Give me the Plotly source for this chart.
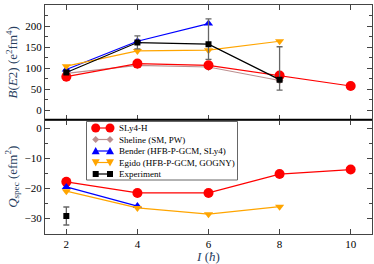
import plotly.graph_objects as go
from plotly.subplots import make_subplots

spins = [2, 4, 6, 8, 10]

# B(E2) values (e^2 fm^4)
be2_sly4 = [80, 111, 107, 83, 58]
be2_sheline_x = [2, 4, 6, 8]
be2_sheline = [88, 107, 103, 71]
be2_bender_x = [2, 4, 6]
be2_bender = [97, 164, 206]
be2_egido_x = [2, 4, 6, 8]
be2_egido = [105, 141, 143, 164]
be2_exp_x = [2, 4, 6, 8]
be2_exp = [90, 161, 157, 73]
be2_exp_err_plus = [4, 16, 60, 78]
be2_exp_err_minus = [4, 15, 36, 25]

# Q_spec values (e fm^2)
q_sly4 = [-17.8, -21.5, -21.5, -15.2, -13.7]
q_bender_x = [2, 4]
q_bender = [-19.5, -25.9]
q_egido_x = [2, 4, 6, 8]
q_egido = [-20.9, -26.5, -28.6, -26.1]
q_exp_x = [2]
q_exp = [-29.2]
q_exp_err = [3.0]

legend_names = ["SLy4-H", "Sheline (SM, PW)", "Bender (HFB-P-GCM, SLy4)",
                "Egido (HFB-P-GCM, GOGNY)", "Experiment"]

RED = "#ff0000"
ROSY = "#bc8f8f"
BLUE = "#0000ff"
ORANGE = "#ffa500"
BLACK = "#000000"
FONT = "Liberation Serif"

W, H = 374, 264
ML, MR, MT, MB = 45, 2, 5, 30
PW, PH = W - ML - MR, H - MT - MB

fig = make_subplots(rows=2, cols=1, shared_xaxes=True, vertical_spacing=0)

def add(x, y, name, color, symbol, size, row, err=None):
    kw = {}
    if err is not None:
        kw["error_y"] = err
    fig.add_trace(go.Scatter(x=x, y=y, name=name, mode="lines+markers",
                             line=dict(color=color, width=1.2),
                             marker=dict(color=color, symbol=symbol, size=size),
                             showlegend=False, **kw),
                  row=row, col=1)

err_style = dict(color="#666666", thickness=1.3, width=3)

add(be2_sheline_x, be2_sheline, legend_names[1], ROSY, "diamond", 6, 1)
add(spins, be2_sly4, legend_names[0], RED, "circle", 10, 1)
add(be2_bender_x, be2_bender, legend_names[2], BLUE, "triangle-up", 8, 1)
add(be2_egido_x, be2_egido, legend_names[3], ORANGE, "triangle-down", 8, 1)
add(be2_exp_x, be2_exp, legend_names[4], BLACK, "square", 6, 1,
    err=dict(type="data", symmetric=False, array=be2_exp_err_plus,
             arrayminus=be2_exp_err_minus, **err_style))

add(spins, q_sly4, legend_names[0], RED, "circle", 10, 2)
add(q_bender_x, q_bender, legend_names[2], BLUE, "triangle-up", 8, 2)
add(q_egido_x, q_egido, legend_names[3], ORANGE, "triangle-down", 8, 2)
add(q_exp_x, q_exp, legend_names[4], BLACK, "square", 6, 2,
    err=dict(type="data", array=q_exp_err, **err_style))

axis_common = dict(showgrid=False, zeroline=False, showline=True, mirror="ticks",
                   linecolor="#444444", linewidth=1, ticks="inside", ticklen=5,
                   tickcolor="#444444", automargin=False,
                   tickfont=dict(family=FONT, size=11, color="black"))

fig.update_xaxes(range=[1.4, 10.6], tickvals=[2, 4, 6, 8, 10], **axis_common)
fig.update_xaxes(title=dict(text="<i>I</i> (<i>ħ</i>)", font=dict(family=FONT, size=13),
                            standoff=0), row=2, col=1)
fig.update_yaxes(range=[-21.5, 250], dtick=50, row=1, col=1,
                 minor=dict(ticks="inside", dtick=25, ticklen=3, tickcolor="#444444"),
                 title=dict(text="<i>B</i>(<i>E</i>2) (e<sup>2</sup>fm<sup>4</sup>)",
                            font=dict(family=FONT, size=13), standoff=4),
                 **axis_common)
fig.update_yaxes(range=[-35.2, 3], dtick=10, row=2, col=1,
                 minor=dict(ticks="inside", dtick=5, ticklen=3, tickcolor="#444444"),
                 title=dict(text="<i>Q</i><sub>spec</sub> (efm<sup>2</sup>)",
                            font=dict(family=FONT, size=13), standoff=4),
                 **axis_common)

shapes = [dict(type="line", xref="paper", yref="paper", x0=0, x1=1, y0=0.5, y1=0.5,
               line=dict(color="black", width=1.5))]
annotations = []

# manual legend (pixel geometry converted to paper coordinates)
def px(x):
    return (x - ML) / PW

def py(y):
    return (MT + PH - y) / PH

shapes.append(dict(type="rect", xref="paper", yref="paper",
                   x0=px(86.5), x1=px(237.5), y0=py(121.5), y1=py(180.0),
                   fillcolor="white", line=dict(color="#666666", width=1), layer="above"))

leg_styles = [(RED, "circle", 4.5), (ROSY, "diamond", 3.5), (BLUE, "triangle-up", 4.0),
              (ORANGE, "triangle-down", 4.0), (BLACK, "square", 3.0)]

def marker_shape(cx, cy, kind, r, color):
    if kind == "circle":
        return dict(type="circle", xref="paper", yref="paper",
                    x0=px(cx - r), x1=px(cx + r), y0=py(cy - r), y1=py(cy + r),
                    fillcolor=color, line=dict(width=0), layer="above")
    if kind == "square":
        return dict(type="rect", xref="paper", yref="paper",
                    x0=px(cx - r), x1=px(cx + r), y0=py(cy - r), y1=py(cy + r),
                    fillcolor=color, line=dict(width=0), layer="above")
    if kind == "diamond":
        pts = [(cx, cy - r), (cx + r, cy), (cx, cy + r), (cx - r, cy)]
    elif kind == "triangle-up":
        pts = [(cx, cy - r), (cx + r, cy + r * 0.8), (cx - r, cy + r * 0.8)]
    else:
        pts = [(cx, cy + r), (cx + r, cy - r * 0.8), (cx - r, cy - r * 0.8)]
    path = "M " + " L ".join(f"{px(a):.5f},{py(b):.5f}" for a, b in pts) + " Z"
    return dict(type="path", xref="paper", yref="paper", path=path,
                fillcolor=color, line=dict(width=0), layer="above")

for i, (name, (color, kind, r)) in enumerate(zip(legend_names, leg_styles)):
    cy = 128.0 + i * 11.5
    shapes.append(dict(type="line", xref="paper", yref="paper",
                       x0=px(95.7), x1=px(110.0), y0=py(cy), y1=py(cy),
                       line=dict(color=color, width=1.2), layer="above"))
    shapes.append(marker_shape(95.7, cy, kind, r, color))
    shapes.append(marker_shape(110.0, cy, kind, r, color))
    annotations.append(dict(text=name, xref="paper", yref="paper",
                            x=px(116.5), y=py(cy), xanchor="left", yanchor="middle",
                            showarrow=False,
                            font=dict(family=FONT, size=9, color="black")))

fig.update_layout(
    width=W, height=H,
    margin=dict(l=ML, r=MR, t=MT, b=MB),
    paper_bgcolor="white", plot_bgcolor="white",
    showlegend=False,
    shapes=shapes, annotations=annotations,
)

fig.write_html("out.html", config={"displayModeBar": False},
               post_script="document.body.style.margin='0';")
